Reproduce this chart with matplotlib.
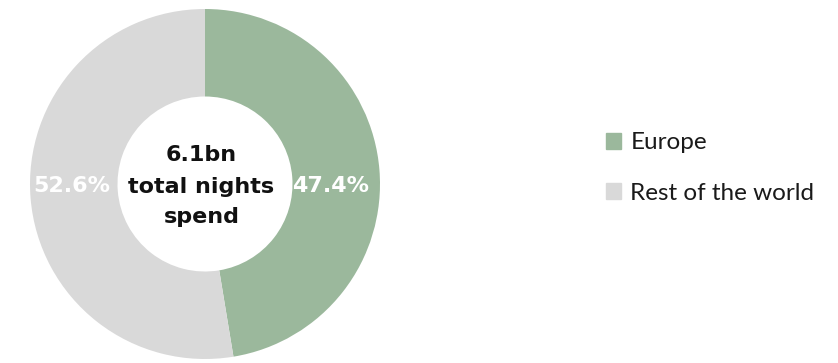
import matplotlib.pyplot as plt
from matplotlib.patches import Patch

# share of total nights spent
regions = ["Europe", "Rest of the world"]
shares = [47.4, 52.6]
colors = ["#9bb89c", "#d9d9d9"]
center_lines = ["6.1bn", "total nights", "spend"]

W, H = 838, 363
fig = plt.figure(figsize=(W / 100, H / 100), dpi=100)

# donut: centre at (205, 184) px, outer radius 175 px
cx, cy, r = 205, 184, 175
ax = fig.add_axes([(cx - r) / W, (H - cy - r) / H, 2 * r / W, 2 * r / H])
wedges, _ = ax.pie(shares, colors=colors, startangle=90, counterclock=False,
                   radius=1.0, wedgeprops=dict(width=0.5, linewidth=0))
ax.set_xlim(-1, 1)
ax.set_ylim(-1, 1)
ax.set_aspect("equal")
ax.axis("off")


def px_y(py):
    # pixel row -> axes data units
    return (cy - py) / r


# percentage labels sit level with the centre, right for Europe, left for the rest
for share, x in zip(shares, [0.72, -0.76]):
    ax.text(x, px_y(186), f"{share:.1f}%", ha="center", va="center",
            color="white", fontsize=16, fontweight="bold", family="DejaVu Sans")

for line, py in zip(center_lines, [161, 193, 223]):
    ax.text(-0.02, px_y(py), line, ha="center", va="baseline",
            fontsize=16, fontweight="bold", family="DejaVu Sans",
            color="#111111")

fig.legend(handles=[Patch(color=c, label=l) for c, l in zip(colors, regions)],
           loc="center left", bbox_to_anchor=(606 / W, 1 - 168 / H),
           frameon=False, prop=dict(family="Lato", size=17.5),
           handlelength=0.63, handleheight=0.63, handletextpad=0.37,
           labelspacing=1.2, borderpad=0, borderaxespad=0,
           labelcolor="#1a1a1a")

fig.savefig("out.png", dpi=100)
